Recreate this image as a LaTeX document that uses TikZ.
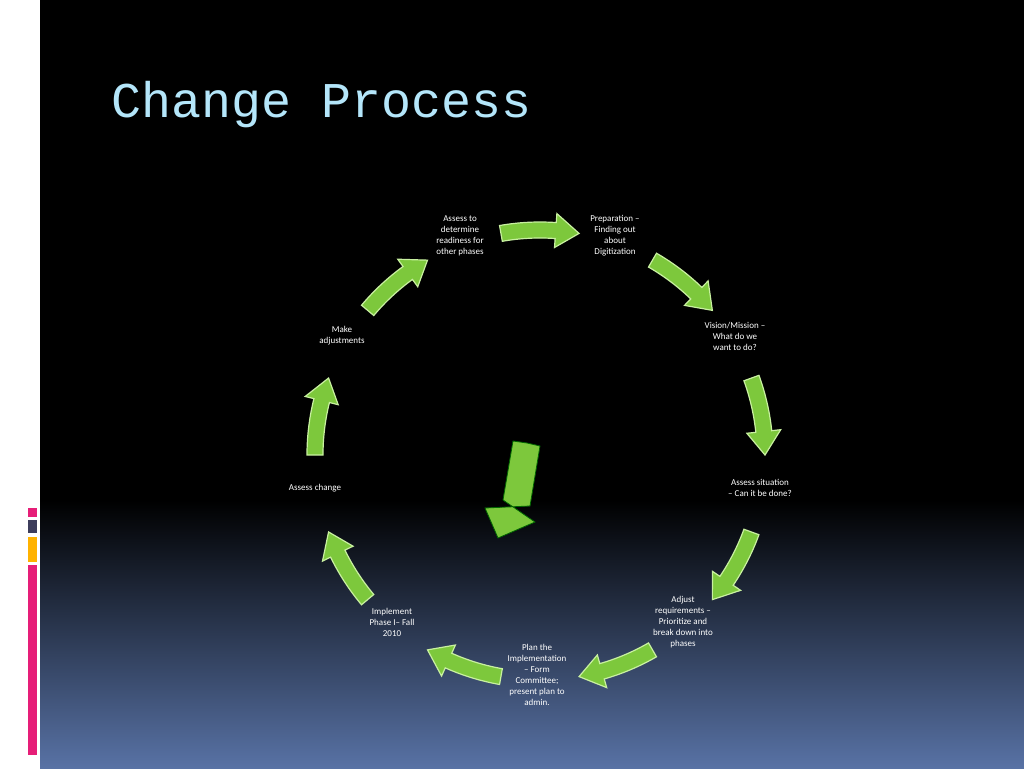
\documentclass[tikz,border=0pt]{standalone}
\usepackage{fontspec}
\setmainfont{Carlito}
\newfontfamily\titlefont{Liberation Mono}
\begin{document}
\begin{tikzpicture}[x=1pt,y=-1pt,
  lbl/.style={text=white,font=\fontsize{9}{11}\selectfont,align=center,inner sep=1pt},
  cyc/.style={fill=green!50!lime!80!black!90,draw=green!15!lime!40,line width=1.2pt,line join=miter}]
\useasboundingbox (0,0) rectangle (1024,768);
\fill[white] (0,0) rectangle (40,768);
\fill[black] (40,0) rectangle (1024,500);
\shade[top color=black,bottom color={rgb,255:red,88;green,114;blue,165}] (40,500) rectangle (1024,768);
\definecolor{pk}{RGB}{230,30,120}
\fill[pk] (28,508) rectangle (37,517);
\fill[gray!80!blue!60!black] (28,520) rectangle (37,533);
\fill[orange!60!yellow] (28,537) rectangle (37,562);
\fill[pk] (28,565) rectangle (37,755);
\node[anchor=base west,text={rgb,255:red,180;green,230;blue,250},font=\titlefont\fontsize{50}{56}\selectfont,inner sep=0] (title) at (111,117) {Change Process};
\coordinate (C) at (540,455);
\colorlet{armgreen}{rgb,255:red,125;green,200;blue,60}
\begin{scope}[shift={(C)},y=1pt]
\foreach \m in {90,50,10,-30,-70,-110,-150,170,130}{
  \pgfmathsetmacro\aa{\m+10}\pgfmathsetmacro\ab{\m-10}\pgfmathsetmacro\ah{\m-4}
  \draw[fill=armgreen,draw={rgb,255:red,200;green,240;blue,160},line width=1.2pt]
    (\aa:233) arc[start angle=\aa,end angle=\ah,radius=233] -- (\ah:242) -- (\ab:225) -- (\ah:208)
    -- (\ah:217) arc[start angle=\ah,end angle=\aa,radius=217] -- cycle;
}
\end{scope}
\node[lbl] (n1) at (460,236) {Assess to\\determine\\readiness for\\other phases};
\node[lbl] (n2) at (615,236) {Preparation --\\Finding out\\about\\Digitization};
\node[lbl] (n3) at (735,336) {Vision/Mission --\\What do we\\want to do?};
\node[lbl] (n4) at (760,488) {Assess situation\\-- Can it be done?};
\node[lbl] (n5) at (683,622) {Adjust\\requirements --\\Prioritize and\\break down into\\phases};
\node[lbl] (n6) at (537,675) {Plan the\\Implementation\\-- Form\\Committee;\\present plan to\\admin.};
\node[lbl] (n7) at (392,622) {Implement\\Phase I-- Fall\\2010};
\node[lbl] (n8) at (315,488) {Assess change};
\node[lbl] (n9) at (342,336) {Make\\adjustments};
% central arrow
\draw[fill=armgreen,draw=green!40!black,line width=0.8pt]
  (527,443) -- (540,446) -- (530,506) -- (485,508) -- (498,538) -- (535,522) -- (503,500) -- (513,441) -- cycle;
\end{tikzpicture}
\end{document}
